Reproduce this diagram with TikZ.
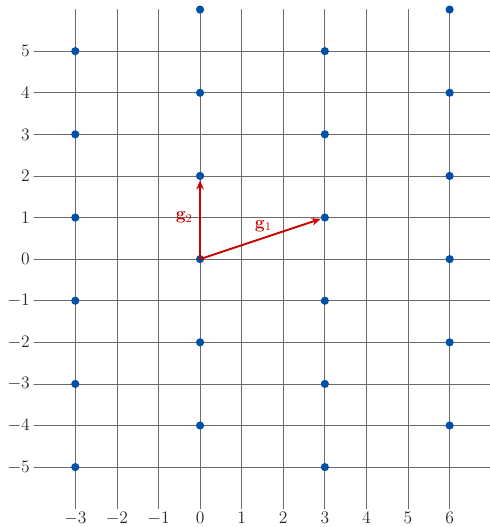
\documentclass[tikz,border=0pt]{standalone}
\usepackage{amsmath,amssymb}
\usepackage{tikz}
\usetikzlibrary{arrows.meta}
\usepackage{xcolor}
\definecolor{dotblue}{RGB}{0,80,170}

\begin{document}
\begin{tikzpicture}[x=1cm,y=1cm,>={Stealth[length=2.2mm,width=1.8mm]},font=\large,line cap=round,
  gline/.style={gray!85!black,line width=0.5pt},
  ylab/.style={left,inner sep=2.5pt,black!85},
  xlab/.style={below,inner sep=2pt,black!85},
  dot/.style={circle,fill=dotblue,inner sep=0pt,minimum size=5.6pt},
  vec/.style={->,red!80!black,line width=1.3pt}]
\useasboundingbox (-4.81,-6.44) rectangle (6.95,6.23);
% vertical lines
\draw[gline] (-3,-6) -- (-3,6);
\draw[gline] (-2,-6) -- (-2,6);
\draw[gline] (-1,-6) -- (-1,6);
\draw[gline] (0,-6) -- (0,6);
\draw[gline] (1,-6) -- (1,6);
\draw[gline] (2,-6) -- (2,6);
\draw[gline] (3,-6) -- (3,6);
\draw[gline] (4,-6) -- (4,6);
\draw[gline] (5,-6) -- (5,6);
\draw[gline] (6,-6) -- (6,6);
% horizontal lines
\draw[gline] (-4,5) -- (7,5);
\draw[gline] (-4,4) -- (7,4);
\draw[gline] (-4,3) -- (7,3);
\draw[gline] (-4,2) -- (7,2);
\draw[gline] (-4,1) -- (7,1);
\draw[gline] (-4,0) -- (7,0);
\draw[gline] (-4,-1) -- (7,-1);
\draw[gline] (-4,-2) -- (7,-2);
\draw[gline] (-4,-3) -- (7,-3);
\draw[gline] (-4,-4) -- (7,-4);
\draw[gline] (-4,-5) -- (7,-5);
% labels
\node[ylab] (ly5) at (-4,5) {$5$};
\node[ylab] (ly4) at (-4,4) {$4$};
\node[ylab] (ly3) at (-4,3) {$3$};
\node[ylab] (ly2) at (-4,2) {$2$};
\node[ylab] (ly1) at (-4,1) {$1$};
\node[ylab] (ly0) at (-4,0) {$0$};
\node[ylab] (lym1) at (-4,-1) {$-1$};
\node[ylab] (lym2) at (-4,-2) {$-2$};
\node[ylab] (lym3) at (-4,-3) {$-3$};
\node[ylab] (lym4) at (-4,-4) {$-4$};
\node[ylab] (lym5) at (-4,-5) {$-5$};
\node[xlab] (lxm3) at (-3,-6) {$-3$};
\node[xlab] (lxm2) at (-2,-6) {$-2$};
\node[xlab] (lxm1) at (-1,-6) {$-1$};
\node[xlab] (lx0) at (0,-6) {$0$};
\node[xlab] (lx1) at (1,-6) {$1$};
\node[xlab] (lx2) at (2,-6) {$2$};
\node[xlab] (lx3) at (3,-6) {$3$};
\node[xlab] (lx4) at (4,-6) {$4$};
\node[xlab] (lx5) at (5,-6) {$5$};
\node[xlab] (lx6) at (6,-6) {$6$};
% lattice points
\node[dot] (am5) at (-3,-5) {};
\node[dot] (am3) at (-3,-3) {};
\node[dot] (am1) at (-3,-1) {};
\node[dot] (ap1) at (-3,1) {};
\node[dot] (ap3) at (-3,3) {};
\node[dot] (ap5) at (-3,5) {};
\node[dot] (bm4) at (0,-4) {};
\node[dot] (bm2) at (0,-2) {};
\node[dot] (b0) at (0,0) {};
\node[dot] (bp2) at (0,2) {};
\node[dot] (bp4) at (0,4) {};
\node[dot] (bp6) at (0,6) {};
\node[dot] (cm5) at (3,-5) {};
\node[dot] (cm3) at (3,-3) {};
\node[dot] (cm1) at (3,-1) {};
\node[dot] (cp1) at (3,1) {};
\node[dot] (cp3) at (3,3) {};
\node[dot] (cp5) at (3,5) {};
\node[dot] (dm4) at (6,-4) {};
\node[dot] (dm2) at (6,-2) {};
\node[dot] (d0) at (6,0) {};
\node[dot] (dp2) at (6,2) {};
\node[dot] (dp4) at (6,4) {};
\node[dot] (dp6) at (6,6) {};
% basis vectors
\draw[vec] (b0.center) -- (cp1);
\draw[vec] (b0.center) -- (bp2);
\node[red!80!black] (lg1) at (1.52,0.8) {$\mathbf{g}_1$};
\node[red!80!black] (lg2) at (-0.38,1.0) {$\mathbf{g}_2$};
\end{tikzpicture}
\end{document}
